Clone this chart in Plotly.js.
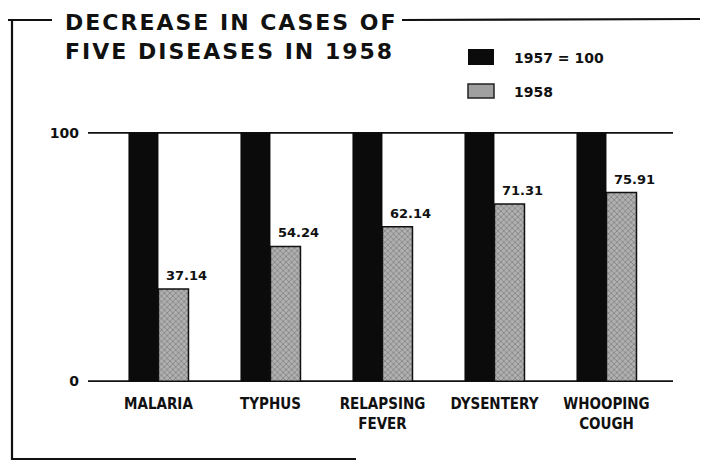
<!DOCTYPE html>
<html>
<head>
<meta charset="utf-8">
<script src="https://cdn.plot.ly/plotly-3.0.1.min.js"></script>
<style>
  html, body { margin: 0; padding: 0; background: #fff; }
  #chart { width: 702px; height: 463px; }
  .gtitle { letter-spacing: 2px; }
</style>
</head>
<body>
<div id="chart"></div>
<script>
// ---- data ----
const categories = ["MALARIA", "TYPHUS", "RELAPSING<br>FEVER", "DYSENTERY", "WHOOPING<br>COUGH"];
const base1957 = [100, 100, 100, 100, 100];
const cases1958 = [37.14, 54.24, 62.14, 71.31, 75.91];
const seriesNames = ["1957 = 100", "1958"];
const yTickVals = [0, 100];
const yTickText = ["0", "100"];

// ---- layout helpers (pixel -> paper) ----
const W = 702, H = 463;
const M = { l: 88, r: 29, t: 132, b: 81 };
const PW = W - M.l - M.r, PH = H - M.t - M.b;
const px = x => (x - M.l) / PW;
const py = y => (H - M.b - y) / PH;

const black = "#0b0b0b";
const grayPattern = { shape: "x", bgcolor: "#b0b0b0", fgcolor: "#808080", size: 4, solidity: 0.35 };

const traces = [
  {
    type: "bar", name: seriesNames[0], x: categories, y: base1957,
    marker: { color: black, line: { width: 0 } },
    hoverinfo: "skip", showlegend: false
  },
  {
    type: "bar", name: seriesNames[1], x: categories, y: cases1958,
    marker: { color: "#b0b0b0", pattern: grayPattern, line: { color: "#111", width: 1.5 } },
    hoverinfo: "skip", showlegend: false
  }
];

const numFont = { family: "DejaVu Sans, sans-serif", size: 13, color: "#111", weight: "bold" };

const annotations = cases1958.map((v, i) => ({
  x: categories[i], y: v, xref: "x", yref: "y",
  text: v.toFixed(2), showarrow: false,
  xanchor: "center", yanchor: "bottom", xshift: 28, yshift: 4,
  font: numFont
}));

// legend texts
annotations.push({
  xref: "paper", yref: "paper", x: px(512), y: py(58), xanchor: "left", yanchor: "middle",
  text: seriesNames[0], showarrow: false,
  font: { family: "DejaVu Sans, sans-serif", size: 14, color: "#111", weight: "bold" }
});
annotations.push({
  xref: "paper", yref: "paper", x: px(512), y: py(92), xanchor: "left", yanchor: "middle",
  text: seriesNames[1], showarrow: false,
  font: { family: "DejaVu Sans, sans-serif", size: 14, color: "#111", weight: "bold" }
});

const lineStyle = { color: "#111", width: 2.2 };
const shapes = [
  // value guide lines at the y tick values (through the y scale)
  ...yTickVals.map(v => ({
    type: "line", xref: "paper", yref: "y", x0: 0, x1: 1, y0: v, y1: v,
    line: { color: "#111", width: 2.2 }, layer: "below"
  })),
  // frame
  { type: "line", xref: "paper", yref: "paper", x0: px(8), x1: px(52), y0: py(20), y1: py(20), line: lineStyle },
  { type: "line", xref: "paper", yref: "paper", x0: px(402), x1: px(700), y0: py(20), y1: py(19), line: lineStyle },
  { type: "line", xref: "paper", yref: "paper", x0: px(12), x1: px(12), y0: py(19), y1: py(460), line: lineStyle },
  { type: "line", xref: "paper", yref: "paper", x0: px(11), x1: px(356), y0: py(459), y1: py(459), line: lineStyle },
  // legend swatches
  { type: "rect", xref: "paper", yref: "paper", x0: px(468), x1: px(494), y0: py(49), y1: py(65),
    fillcolor: black, line: { width: 0 } },
  { type: "rect", xref: "paper", yref: "paper", x0: px(468), x1: px(494), y0: py(84), y1: py(98),
    fillcolor: "#a0a0a0", line: { color: "#222", width: 1.5 } }
];

const layout = {
  width: W, height: H,
  margin: M,
  paper_bgcolor: "#fff", plot_bgcolor: "#fff",
  barmode: "group", bargap: 0.464, bargroupgap: 0,
  title: {
    text: "DECREASE IN CASES OF<br>FIVE DISEASES IN 1958",
    xref: "container", yref: "container",
    x: 65 / W, xanchor: "left",
    y: 1 - 30 / H, yanchor: "top",
    font: { family: "DejaVu Sans, sans-serif", size: 22, color: "#111", weight: "bold" }
  },
  xaxis: {
    type: "category",
    range: [-0.629, 4.594],
    showgrid: false, zeroline: false, showline: false,
    ticks: "", ticklabelstandoff: 11,
    tickfont: { family: "Liberation Sans Narrow, DejaVu Sans Condensed, Roboto Condensed, Liberation Sans, sans-serif", size: 15, color: "#111", weight: "bold" },
    fixedrange: true
  },
  yaxis: {
    range: [-0.3, 100.3],
    tickvals: yTickVals, ticktext: yTickText,
    showgrid: false, zeroline: false, showline: false, ticks: "",
    ticklabelstandoff: 8,
    tickfont: { family: "DejaVu Sans, sans-serif", size: 14, color: "#111", weight: "bold" },
    fixedrange: true
  },
  showlegend: false,
  annotations: annotations,
  shapes: shapes
};

Plotly.newPlot("chart", traces, layout, { displayModeBar: false, staticPlot: true });
</script>
</body>
</html>
